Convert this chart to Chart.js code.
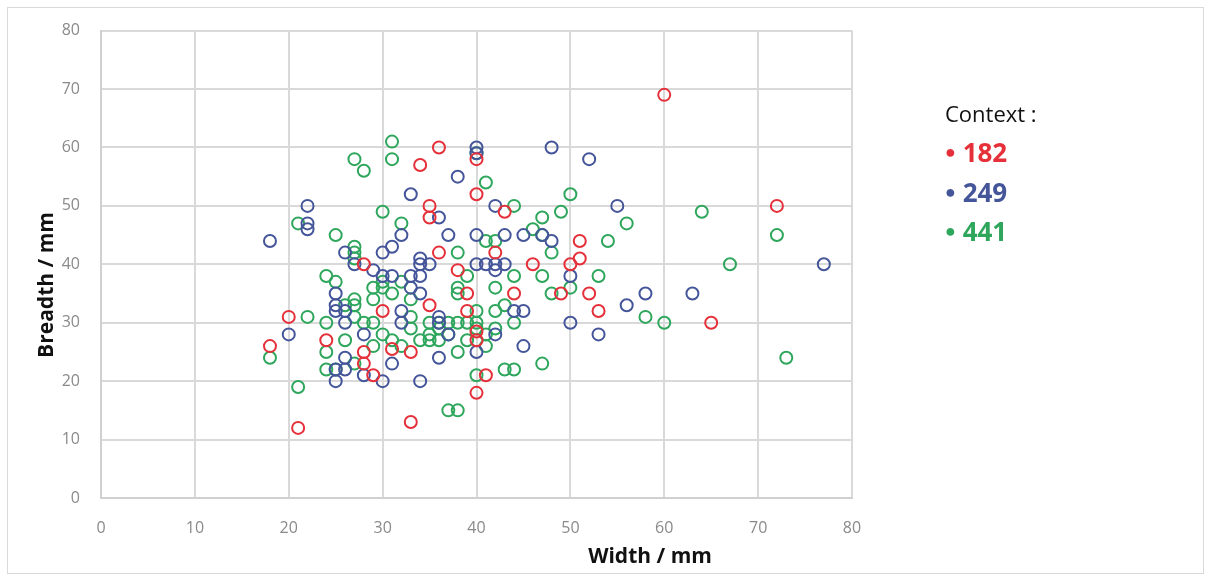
<!DOCTYPE html>
<html>
<head>
<meta charset="utf-8">
<script src="https://cdn.jsdelivr.net/npm/chart.js@4/dist/chart.umd.min.js"></script>
<style>
  html, body { margin: 0; padding: 0; background: #fff; }
  #wrap { position: relative; width: 1210px; height: 580px; }
  .leg { position: absolute; font-family: "Open Sans", sans-serif; }
</style>
</head>
<body>
<div id="wrap">
  <canvas id="scatter" width="1210" height="580"></canvas>
  <div class="leg" style="left:945px; top:98px; font-size:22px; color:#111;">Context :</div>
  <div class="leg" id="leg182" style="left:945px; top:134px; font-size:26px; font-weight:bold;"></div>
  <div class="leg" id="leg249" style="left:945px; top:174px; font-size:26px; font-weight:bold;"></div>
  <div class="leg" id="leg441" style="left:945px; top:213px; font-size:26px; font-weight:bold;"></div>
</div>
<script>
  // Contextos e cores
  const contextos = ['182', '249', '441'];
  const cores = ['#e5303a', '#44559a', '#2ea65c'];

  // Ticks dos eixos
  const ticksX = [0, 10, 20, 30, 40, 50, 60, 70, 80];
  const ticksY = [0, 10, 20, 30, 40, 50, 60, 70, 80];

  // Pontos [largura, comprimento] de cada contexto
  const pontos182 = [
    [60,69],[72,50],[36,60],[34,57],[40,58],[40,52],[35,50],[35,48],[43,49],[36,42],
    [42,42],[46,40],[51,44],[50,40],[51,41],[28,40],[38,39],[44,35],[49,35],[52,35],
    [39,35],[35,33],[53,32],[39,32],[30,32],[20,31],[65,30],[40,28.5],[40,27],[18,26],
    [24,27],[33,25],[31,25.5],[28,25],[28,23],[29,21],[41,21],[40,18],[21,12],[33,13]
  ];
  const pontos249 = [
    [18,44],[22,50],[22,47],[22,46],[33,52],[38,55],[36,48],[37,45],[40,45],[40,60],
    [40,59],[32,45],[31,43],[30,42],[26,42],[34,41],[34,40],[48,60],[52,58],[55,50],
    [42,50],[43,45],[45,45],[47,45],[48,44],[77,40],[40,40],[42,40],[43,40],[41,40],
    [42,39],[35,40],[50,38],[58,35],[63,35],[56,33],[44,32],[45,32],[42,28],[53,28],
    [45,26],[40,25],[27,40],[29,39],[30,38],[31,38],[33,38],[34,38],[33,36],[34,35],
    [25,35],[25,33],[32,32],[25,32],[20,28],[26,30],[26,24],[25,22],[26,22],[25,20],
    [28,21],[30,20],[31,23],[34,20],[50,30],[36,24],[37,28],[36,31],[36,30],[32,30],
    [28,28],[26,32]
  ];
  const pontos441 = [
    [31,61],[31,58],[27,58],[28,56],[41,54],[40,59],[50,52],[44,50],[49,49],[47,48],
    [46,46],[47,45],[30,49],[32,47],[25,45],[21,47],[56,47],[64,49],[72,45],[54,44],
    [48,42],[41,44],[42,44],[67,40],[44,38],[47,38],[53,38],[48,35],[50,36],[42,36],
    [58,31],[60,30],[73,24],[43,22],[44,22],[47,23],[40,21],[43,33],[42,32],[44,30],
    [38,42],[39,38],[38,36],[38,35],[40,32],[27,43],[27,42],[27,41],[24,38],[25,37],
    [27,34],[29,36],[29,34],[30,37],[31,35],[32,37],[22,31],[24,30],[18,24],[21,19],
    [24,25],[24,22],[25,22],[26,27],[27,31],[29,30],[27,23],[35,30],[36,30],[37,30],
    [38,30],[39,30],[40,30],[35,28],[37,28],[38,25],[41,28],[41,26],[37,15],[38,15],
    [26,33],[27,33],[33,29],[34,27],[35,27],[33,31],[31,27],[30,28],[28,30],[29,26],
    [32,26],[30,36],[33,34],[36,29],[36,27],[39,27],[42,29],[40,29]
  ];

  const series = [pontos182, pontos249, pontos441];

  // Legenda em HTML
  contextos.forEach((c, i) => {
    const el = document.getElementById('leg' + c);
    el.style.color = cores[i];
    el.innerHTML = '<span style="font-size:18px;vertical-align:4px;">&#9679;</span> ' + c;
  });

  // Títulos dos eixos e moldura
  const extras = {
    id: 'extras',
    afterDraw(chart) {
      const g = chart.ctx;
      g.save();
      g.strokeStyle = '#d9d9d9';
      g.lineWidth = 1;
      g.strokeRect(7.5, 7.5, 1196, 566);
      g.fillStyle = '#111';
      g.font = 'bold 21px "Open Sans"';
      g.textAlign = 'center';
      g.textBaseline = 'middle';
      g.fillText('Width / mm', 650, 557);
      g.translate(47, 285);
      g.rotate(-Math.PI / 2);
      g.fillText('Breadth / mm', 0, 0);
      g.restore();
    }
  };

  const ctx = document.getElementById('scatter').getContext('2d');
  new Chart(ctx, {
    type: 'scatter',
    data: {
      datasets: series.map((pts, i) => ({
        label: contextos[i],
        data: pts.map(p => ({ x: p[0], y: p[1] })),
        borderColor: cores[i],
        backgroundColor: 'rgba(0,0,0,0)',
        pointRadius: 6,
        pointBorderWidth: 2,
        pointHoverRadius: 6
      }))
    },
    options: {
      responsive: false,
      animation: false,
      layout: { padding: { left: 0, top: 26, right: 358, bottom: 0 } },
      plugins: {
        legend: { display: false },
        tooltip: { enabled: false }
      },
      scales: {
        x: {
          type: 'linear',
          min: 0, max: 80,
          afterFit: s => { s.height = 82; },
          afterBuildTicks: s => { s.ticks = ticksX.map(v => ({ value: v })); },
          grid: { color: '#d9d9d9', lineWidth: 2, drawTicks: false },
          border: { color: '#d0d0d0', width: 2 },
          ticks: { color: '#8a8a8a', padding: 21, font: { family: 'Open Sans', size: 16 } }
        },
        y: {
          type: 'linear',
          min: 0, max: 80,
          afterFit: s => { s.width = 101; },
          afterBuildTicks: s => { s.ticks = ticksY.map(v => ({ value: v })); },
          grid: { color: '#d9d9d9', lineWidth: 2, drawTicks: false },
          border: { color: '#d0d0d0', width: 2 },
          ticks: { color: '#8a8a8a', padding: 21, font: { family: 'Open Sans', size: 16 } }
        }
      }
    },
    plugins: [extras]
  });
</script>
</body>
</html>
